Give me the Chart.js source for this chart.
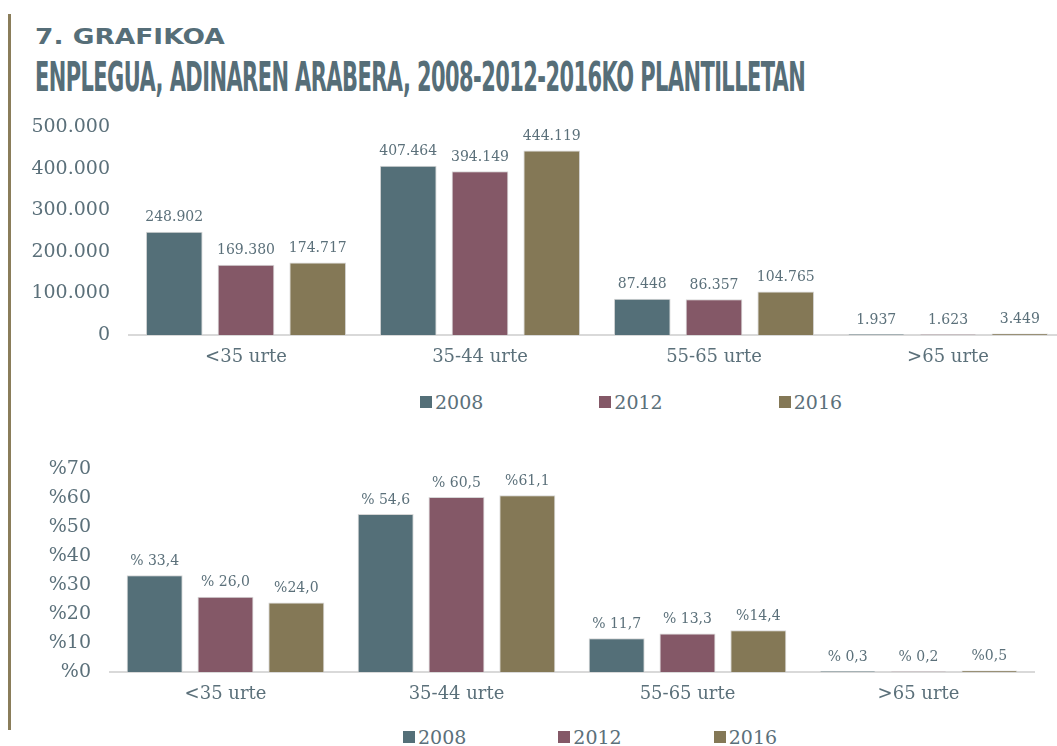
<!DOCTYPE html>
<html>
<head>
<meta charset="utf-8">
<script src="https://cdn.jsdelivr.net/npm/chart.js@4.4.1/dist/chart.umd.min.js"></script>
<style>
  html, body { margin: 0; padding: 0; background: #fff; }
  body { width: 1057px; height: 746px; overflow: hidden; position: relative; }
  .side { position: absolute; left: 8px; top: 14px; width: 3px; height: 716px; background: #8a7d5a; }
  .kicker { position: absolute; left: 35px; top: 24px; font: bold 22px "DejaVu Sans", sans-serif; color: #566e78; transform-origin: left top; white-space: nowrap; }
  .title { position: absolute; left: 35px; top: 54px; font: bold 40px "DejaVu Sans Condensed", "DejaVu Sans", sans-serif; color: #566e78; transform-origin: left top; white-space: nowrap; letter-spacing: -1px; }
  #top-wrap { position: absolute; left: 0; top: 97px; width: 1065px; height: 283px; }
  #bottom-wrap { position: absolute; left: 0; top: 439px; width: 1057px; height: 278px; }
  .legend { position: absolute; display: flex; font: 19px "DejaVu Serif", serif; color: #5b707a; line-height: 20px; }
  .legend span.item { display: flex; align-items: center; }
  .legend i { display: inline-block; width: 12px; height: 12px; margin-right: 3px; }
</style>
</head>
<body>
<div class="side"></div>
<div class="kicker" id="kicker">7. GRAFIKOA</div>
<div class="title" id="title">ENPLEGUA, ADINAREN ARABERA, 2008-2012-2016KO PLANTILLETAN</div>
<div id="top-wrap"><canvas id="top-chart"></canvas></div>
<div class="legend" id="top-legend" style="left:420px; top:392px;"></div>
<div id="bottom-wrap"><canvas id="bottom-chart"></canvas></div>
<div class="legend" id="bottom-legend" style="left:403px; top:727px;"></div>

<script>
// ── Data ──────────────────────────────────────────────────────
const categories = ['<35 urte', '35-44 urte', '55-65 urte', '>65 urte'];
const years = ['2008', '2012', '2016'];

// employment counts
const count2008 = [248902, 407464, 87448, 1937];
const count2012 = [169380, 394149, 86357, 1623];
const count2016 = [174717, 444119, 104765, 3449];

// share of employment (%)
const share2008 = [33.4, 54.6, 11.7, 0.3];
const share2012 = [26.0, 60.5, 13.3, 0.2];
const share2016 = [24.0, 61.1, 14.4, 0.5];

// share labels as printed
const shareText2008 = ['% 33,4', '% 54,6', '% 11,7', '% 0,3'];
const shareText2012 = ['% 26,0', '% 60,5', '% 13,3', '% 0,2'];
const shareText2016 = ['%24,0', '%61,1', '%14,4', '%0,5'];

const countTicks = [0, 100000, 200000, 300000, 400000, 500000];
const shareTicks = [0, 10, 20, 30, 40, 50, 60, 70];

// ── Style ─────────────────────────────────────────────────────
const COLORS = ['#546f78', '#845867', '#847856'];
const TEXT = '#5b707a';
const SERIF = '"DejaVu Serif", serif';

// squeeze the headings into their widths
function fitWidth(id, w) {
  const el = document.getElementById(id);
  el.style.transform = 'scaleX(' + (w / el.offsetWidth) + ')';
}
fitWidth('kicker', 190);
fitWidth('title', 770);

function fmtDots(v) {
  return Math.round(v).toString().replace(/\B(?=(\d{3})+(?!\d))/g, '.');
}

// html legend, one square per year
function buildLegend(id, gap) {
  const el = document.getElementById(id);
  el.style.gap = gap + 'px';
  el.innerHTML = years.map((y, i) =>
    `<span class="item"><i style="background:${COLORS[i]}"></i>${y}</span>`).join('');
}

// value labels above bars
const barLabels = {
  id: 'barLabels',
  afterDatasetsDraw(chart) {
    const ctx = chart.ctx;
    ctx.save();
    ctx.font = '14px ' + SERIF;
    ctx.fillStyle = TEXT;
    ctx.textAlign = 'center';
    ctx.textBaseline = 'bottom';
    chart.data.datasets.forEach((ds, i) => {
      chart.getDatasetMeta(i).data.forEach((bar, j) => {
        ctx.fillText(ds.labelTexts[j], bar.x, bar.y - 7);
      });
    });
    ctx.restore();
  }
};

function makeChart(canvasId, series, texts, ticks, tickFmt, yWidth, padRight) {
  return new Chart(document.getElementById(canvasId), {
    type: 'bar',
    data: {
      labels: categories,
      datasets: years.map((y, i) => ({
        label: y,
        data: series[i],
        labelTexts: texts[i],
        backgroundColor: COLORS[i],
        borderColor: '#d6d6d6',
        borderWidth: 1,
        categoryPercentage: 0.92,
        barPercentage: 0.79
      }))
    },
    options: {
      responsive: true,
      maintainAspectRatio: false,
      animation: false,
      layout: { padding: { top: 5, right: padRight, left: 0, bottom: 0 } },
      plugins: {
        legend: { display: false },
        tooltip: { enabled: false }
      },
      scales: {
        x: {
          grid: { display: false, drawTicks: false },
          border: { display: true, color: '#d9d9d9', width: 2 },
          ticks: { color: TEXT, font: { family: SERIF, size: 18 }, padding: 12 },
          afterFit(scale) { scale.height = 45; }
        },
        y: {
          min: ticks[0],
          max: ticks[ticks.length - 1],
          afterBuildTicks(scale) { scale.ticks = ticks.map(v => ({ value: v })); },
          grid: { display: false, drawTicks: false },
          border: { display: false },
          ticks: { color: TEXT, font: { family: SERIF, size: 19 }, padding: 19, autoSkip: false, callback: tickFmt },
          afterFit(scale) { scale.width = yWidth; }
        }
      }
    },
    plugins: [barLabels]
  });
}

makeChart('top-chart',
  [count2008, count2012, count2016],
  [count2008.map(fmtDots), count2012.map(fmtDots), count2016.map(fmtDots)],
  countTicks, v => fmtDots(v), 129, 0);
buildLegend('top-legend', 116);

makeChart('bottom-chart',
  [share2008, share2012, share2016],
  [shareText2008, shareText2012, shareText2016],
  shareTicks, v => '%' + v, 110, 23);
buildLegend('bottom-legend', 92);
</script>
</body>
</html>
